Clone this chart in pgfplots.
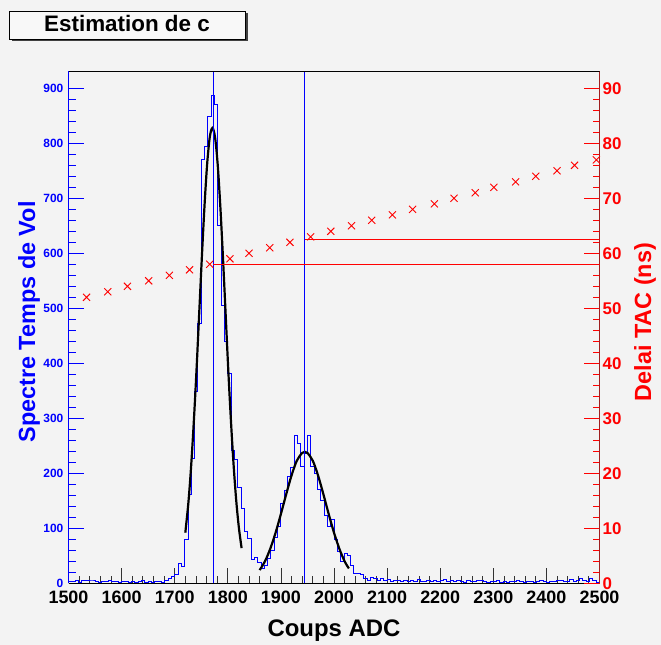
\documentclass[border=0pt]{standalone}
\usepackage{fontspec}
\setmainfont{Liberation Sans}
\usepackage{pgfplots}
\usepackage{pgfplotstable}
\pgfplotsset{compat=1.18}
\definecolor{bg}{RGB}{243,243,243}
\definecolor{boxbg}{RGB}{248,248,248}
\definecolor{axred}{RGB}{160,30,30}

\pgfplotsset{every non boxed x axis/.style={}, every non boxed y axis/.style={}}

% spectre temps de vol, bins de 6.25 canaux
\pgfplotstableread{
x y
1500 4
1506.25 3
1512.5 6
1518.75 2
1525 5
1531.25 5
1537.5 6
1543.75 6
1550 3
1556.25 2
1562.5 4
1568.75 3
1575 5
1581.25 3
1587.5 4
1593.75 2
1600 4
1606.25 3
1612.5 2
1618.75 3
1625 2
1631.25 4
1637.5 5
1643.75 2
1650 3
1656.25 1
1662.5 4
1668.75 3
1675 2
1681.25 5
1687.5 8
1693.75 12
1700 17
1706.25 37
1712.5 31
1718.75 79
1725 162
1731.25 227
1737.5 348
1743.75 473
1750 770
1756.25 795
1762.5 848
1768.75 887
1775 870
1781.25 650
1787.5 506
1793.75 439
1800 382
1806.25 242
1812.5 225
1818.75 175
1825 136
1831.25 94
1837.5 82
1843.75 44
1850 47
1856.25 38
1862.5 27
1868.75 33
1875 45
1881.25 60
1887.5 83
1893.75 103
1900 145
1906.25 168
1912.5 195
1918.75 210
1925 268
1931.25 255
1937.5 212
1943.75 236
1950 268
1956.25 212
1962.5 200
1968.75 170
1975 150
1981.25 124
1987.5 103
1993.75 116
2000 80
2006.25 58
2012.5 40
2018.75 55
2025 50
2031.25 32
2037.5 18
2043.75 18
2050 17
2056.25 8
2062.5 6
2068.75 10
2075 8
2081.25 6
2087.5 9
2093.75 5
2100 7
2106.25 4
2112.5 6
2118.75 5
2125 3
2131.25 6
2137.5 4
2143.75 5
2150 3
2156.25 7
2162.5 4
2168.75 3
2175 5
2181.25 4
2187.5 6
2193.75 3
2200 5
2206.25 7
2212.5 4
2218.75 5
2225 3
2231.25 6
2237.5 4
2243.75 2
2250 5
2256.25 4
2262.5 3
2268.75 5
2275 6
2281.25 3
2287.5 2
2293.75 4
2300 3
2306.25 5
2312.5 2
2318.75 3
2325 2
2331.25 4
2337.5 3
2343.75 5
2350 4
2356.25 2
2362.5 3
2368.75 4
2375 2
2381.25 3
2387.5 5
2393.75 3
2400 2
2406.25 4
2412.5 3
2418.75 5
2425 6
2431.25 3
2437.5 4
2443.75 7
2450 3
2456.25 5
2462.5 9
2468.75 6
2475 4
2481.25 8
2487.5 5
2493.75 2
2500 2
}\histo

\begin{document}
\begin{tikzpicture}
\fill[bg] (0,0) rectangle (661bp,645bp);

\begin{axis}[
  at={(68.5bp,61.7bp)}, anchor=south west,
  scale only axis, width=531bp, height=512.3bp,
  xmin=1500, xmax=2500, ymin=0, ymax=931.5,
  axis x line*=bottom, axis y line*=left,
  x axis line style={-, black, line width=0.8bp},
  y axis line style={-, blue, line width=0.8bp},
  xtick align=inside, ytick align=inside,
  major tick length=15bp, minor tick length=7.5bp,
  xtick={1500,1600,...,2500}, minor x tick num=4,
  ytick={0,100,...,900}, minor y tick num=4,
  xtick style={black!80, line width=0.8bp},
  ytick style={blue, line width=0.8bp},
  /pgf/number format/1000 sep={},
  /pgf/number format/assume math mode=true,
  xticklabel style={font=\fontsize{18}{18}\selectfont\bfseries, inner sep=0pt, yshift=-7.5bp},
  yticklabel style={font=\fontsize{12}{12}\selectfont\bfseries, text=blue, inner sep=0pt, xshift=-5bp},
  xlabel={Coups ADC},
  every axis x label/.style={at={(axis description cs:0.5,0)}, anchor=base, yshift=-52.7bp,
    font=\fontsize{24}{24}\selectfont\bfseries},
  ylabel={Spectre Temps de Vol},
  every axis y label/.style={at={(axis description cs:-0.0744,0.51)}, anchor=center, rotate=90,
    font=\fontsize{23.5}{23.5}\selectfont\bfseries, text=blue},
]
\addplot[const plot, blue, line width=0.9bp] table {\histo};
% ajustements gaussiens
\addplot[black, line width=2.2bp, smooth] coordinates {
  (1720,92) (1726,149) (1731,214) (1736,294) (1741,386) (1746,488) (1751,590)
  (1756,684) (1761,761) (1766,811) (1771,828) (1776,811) (1781,761) (1786,684)
  (1791,590) (1796,488) (1801,386) (1806,294) (1811,214) (1816,149) (1821,100) (1826,64)
};
\addplot[black, line width=2.2bp, smooth] coordinates {
  (1860,24) (1870,40) (1880,63) (1890,92) (1900,126) (1910,162) (1920,196)
  (1930,223) (1940,237) (1945,239) (1950,237) (1960,223) (1970,196) (1980,162)
  (1990,126) (2000,92) (2010,63) (2020,40) (2028,27)
};
% positions des pics
\addplot[blue, line width=0.8bp] coordinates {(1773,0) (1773,931.5)};
\addplot[blue, line width=0.8bp] coordinates {(1945,0) (1945,931.5)};
\end{axis}

\begin{axis}[
  at={(68.5bp,61.7bp)}, anchor=south west,
  scale only axis, width=531bp, height=512.3bp,
  xmin=1500, xmax=2500, ymin=0, ymax=93.15,
  axis y line*=right, hide x axis,
  y axis line style={-, axred, line width=1bp},
  ytick align=inside,
  major tick length=16bp, minor tick length=7bp,
  ytick={0,10,...,90}, minor y tick num=4,
  ytick style={red, line width=0.8bp},
  /pgf/number format/assume math mode=true,
  yticklabel style={font=\fontsize{17}{17}\selectfont\bfseries, text=red, inner sep=0pt, xshift=3bp},
  ylabel={Delai TAC (ns)},
  every axis y label/.style={at={(axis description cs:1.0857,0.51)}, anchor=center, rotate=90,
    font=\fontsize{23.5}{23.5}\selectfont\bfseries, text=red},
]
\addplot[only marks, mark=x, mark size=5bp, red, mark options={line width=0.9bp}] coordinates {
  (1534,52) (1574,53) (1611,54) (1651,55) (1690,56) (1728,57) (1766,58) (1804,59)
  (1840,60) (1879,61) (1917,62) (1956,63) (1994,64) (2033,65) (2071,66) (2110,67)
  (2148,68) (2189,69) (2226,70) (2266,71) (2301,72) (2342,73) (2380,74) (2420,75)
  (2453,76) (2494,77)
};
\addplot[red, line width=0.8bp] coordinates {(1773,58.05) (2500,58.05)};
\addplot[red, line width=0.8bp] coordinates {(1945,62.5) (2500,62.5)};
\draw[black, line width=0.8bp] (rel axis cs:0,1) -- (rel axis cs:1,1);
\end{axis}

% cadre du titre
\fill[black!75] (11.5bp,603.5bp) rectangle (247.5bp,631.5bp);
\draw[fill=boxbg, line width=0.8bp] (9bp,606bp) rectangle (245bp,634bp);
\node[anchor=base, font=\fontsize{22.5}{22.5}\selectfont\bfseries] at (127bp,613.3bp) {Estimation de c};

\pgfresetboundingbox
\useasboundingbox (0,0) rectangle (661bp,645bp);
\end{tikzpicture}
\end{document}
